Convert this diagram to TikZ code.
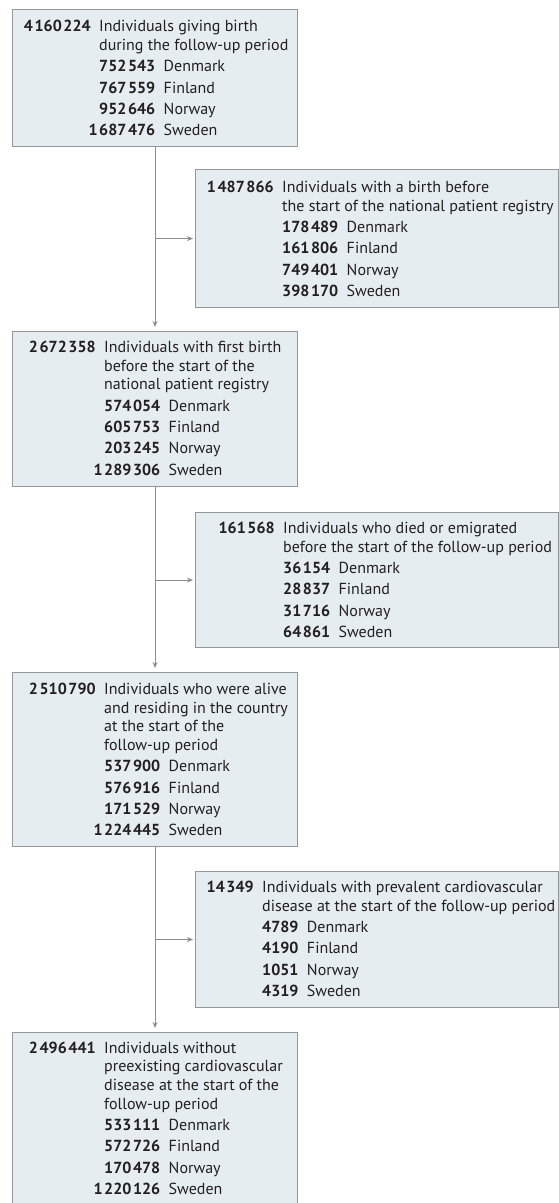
\documentclass[tikz,border=0pt]{standalone}
\usepackage{fontspec}
\setmainfont{PT Sans}
\usetikzlibrary{arrows.meta}
\definecolor{boxfill}{RGB}{229,237,241}
\definecolor{boxline}{RGB}{150,150,150}
\definecolor{linegray}{RGB}{140,140,140}
\definecolor{ink}{RGB}{35,31,32}
\newlength{\cw}
\newcommand{\ths}{\kern0.1em}
\newcommand{\tot}[1]{\llap{\bfseries #1\hspace{8.5pt}}}
\newcommand{\cty}[2]{\makebox[\cw][r]{\bfseries #1}\hspace{8.5pt}#2}
\newcommand{\nl}{\\[2.6pt]}
\begin{document}
\begin{tikzpicture}[x=1pt,y=-1pt,
  box/.style={draw=boxline,fill=boxfill,line width=1.1pt,anchor=north west,inner sep=0pt},
  txt/.style={anchor=base west,inner sep=0pt,text=ink,font=\fontsize{16}{18.7}\selectfont},
  conn/.style={draw=linegray,line width=1.1pt,-{Stealth[length=6pt,width=5pt]}}]
\useasboundingbox (0,0) rectangle (559,1203);
% boxes
\node[box,minimum width=285,minimum height=137] (b1) at (12,9) {};
\node[box,minimum width=363,minimum height=138] (b2) at (195,169) {};
\node[box,minimum width=285,minimum height=155] (b3) at (12,331) {};
\node[box,minimum width=363,minimum height=135] (b4) at (195,512) {};
\node[box,minimum width=285,minimum height=174] (b5) at (12,672) {};
\node[box,minimum width=363,minimum height=136] (b6) at (195,871) {};
\node[box,minimum width=285,minimum height=190] (b7) at (12,1032) {};
% texts
\node[txt] (t1) at (99,31.7) {\settowidth{\cw}{\bfseries 000\ths000}\begin{tabular}[t]{@{}l@{}}
  \tot{4\ths160\ths224}Individuals giving birth\\
  during the follow-up period\nl
  \cty{752\ths543}{Denmark}\nl
  \cty{767\ths559}{Finland}\nl
  \cty{952\ths646}{Norway}\nl
  \cty{1\ths687\ths476}{Sweden}\end{tabular}};
\node[txt] (t2) at (282,192.5) {\settowidth{\cw}{\bfseries 000\ths000}\begin{tabular}[t]{@{}l@{}}
  \tot{1\ths487\ths866}Individuals with a birth before\\
  the start of the national patient registry\nl
  \cty{178\ths489}{Denmark}\nl
  \cty{161\ths806}{Finland}\nl
  \cty{749\ths401}{Norway}\nl
  \cty{398\ths170}{Sweden}\end{tabular}};
\node[txt] (t3) at (104,352.5) {\settowidth{\cw}{\bfseries 000\ths000}\begin{tabular}[t]{@{}l@{}}
  \tot{2\ths672\ths358}Individuals with first birth\\
  before the start of the\\
  national patient registry\nl
  \cty{574\ths054}{Denmark}\nl
  \cty{605\ths753}{Finland}\nl
  \cty{203\ths245}{Norway}\nl
  \cty{1\ths289\ths306}{Sweden}\end{tabular}};
\node[txt] (t4) at (283,533.5) {\settowidth{\cw}{\bfseries 00\ths000}\begin{tabular}[t]{@{}l@{}}
  \tot{161\ths568}Individuals who died or emigrated\\
  before the start of the follow-up period\nl
  \cty{36\ths154}{Denmark}\nl
  \cty{28\ths837}{Finland}\nl
  \cty{31\ths716}{Norway}\nl
  \cty{64\ths861}{Sweden}\end{tabular}};
\node[txt] (t5) at (104,694.5) {\settowidth{\cw}{\bfseries 000\ths000}\begin{tabular}[t]{@{}l@{}}
  \tot{2\ths510\ths790}Individuals who were alive\\
  and residing in the country\\
  at the start of the\\
  follow-up period\nl
  \cty{537\ths900}{Denmark}\nl
  \cty{576\ths916}{Finland}\nl
  \cty{171\ths529}{Norway}\nl
  \cty{1\ths224\ths445}{Sweden}\end{tabular}};
\node[txt] (t6) at (262,892.5) {\settowidth{\cw}{\bfseries 0000}\begin{tabular}[t]{@{}l@{}}
  \tot{14\ths349}Individuals with prevalent cardiovascular\\
  disease at the start of the follow-up period\nl
  \cty{4789}{Denmark}\nl
  \cty{4190}{Finland}\nl
  \cty{1051}{Norway}\nl
  \cty{4319}{Sweden}\end{tabular}};
\node[txt] (t7) at (104,1053) {\settowidth{\cw}{\bfseries 000\ths000}\begin{tabular}[t]{@{}l@{}}
  \tot{2\ths496\ths441}Individuals without\\
  preexisting cardiovascular\\
  disease at the start of the\\
  follow-up period\nl
  \cty{533\ths111}{Denmark}\nl
  \cty{572\ths726}{Finland}\nl
  \cty{170\ths478}{Norway}\nl
  \cty{1\ths220\ths126}{Sweden}\end{tabular}};
% connectors
\coordinate (j1) at (b1.south |- b2.west);
\coordinate (j2) at (b3.south |- b4.west);
\coordinate (j3) at (b5.south |- b6.west);
\draw[conn,shorten >=4pt] (b1.south) -- (b3.north);
\draw[conn,shorten >=4pt] (b3.south) -- (b5.north);
\draw[conn,shorten >=4pt] (b5.south) -- (b7.north);
\draw[conn,shorten >=2pt] (j1) -- (b2.west);
\draw[conn,shorten >=2pt] (j2) -- (b4.west);
\draw[conn,shorten >=2pt] (j3) -- (b6.west);
\end{tikzpicture}
\end{document}
